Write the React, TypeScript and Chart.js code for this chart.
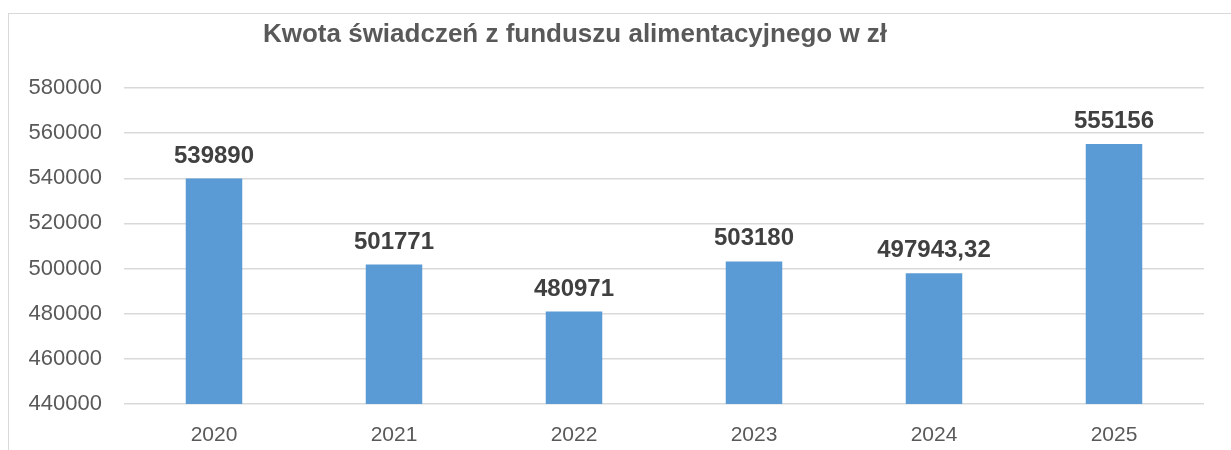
import React, { useEffect, useRef } from "react";
import { Chart, registerables } from "chart.js";

Chart.register(...registerables);

const TITLE = "Kwota świadczeń z funduszu alimentacyjnego w zł";
const YEARS = ["2020", "2021", "2022", "2023", "2024", "2025"];
const AMOUNTS = [539890, 501771, 480971, 503180, 497943.32, 555156];
const Y_MIN = 440000;
const Y_MAX = 580000;
const Y_STEP = 20000;

const FONT = '"Liberation Sans", Arial, sans-serif';

const formatValue = (v: number) => String(v).replace(".", ",");

const titlePlugin = {
  id: "customTitle",
  afterDraw(chart: any) {
    const ctx = chart.ctx;
    ctx.save();
    ctx.font = `bold 26px ${FONT}`;
    ctx.fillStyle = "#595959";
    ctx.textAlign = "center";
    ctx.textBaseline = "alphabetic";
    ctx.fillText(TITLE, 575, 42);
    ctx.restore();
  },
};

const valueLabelPlugin = {
  id: "valueLabels",
  afterDatasetsDraw(chart: any) {
    const ctx = chart.ctx;
    const meta = chart.getDatasetMeta(0);
    ctx.save();
    ctx.font = `bold 24px ${FONT}`;
    ctx.fillStyle = "#404040";
    ctx.textAlign = "center";
    ctx.textBaseline = "alphabetic";
    meta.data.forEach((bar: any, i: number) => {
      ctx.fillText(formatValue(AMOUNTS[i]), bar.x, bar.y - 16);
    });
    ctx.restore();
  },
};

export default function App() {
  const ref = useRef<HTMLCanvasElement | null>(null);

  useEffect(() => {
    if (!ref.current) return;
    const chart = new Chart(ref.current, {
      type: "bar",
      data: {
        labels: YEARS,
        datasets: [
          {
            data: AMOUNTS,
            backgroundColor: "#5b9bd5",
            borderWidth: 0,
            barPercentage: 0.314,
            categoryPercentage: 1,
          },
        ],
      },
      options: {
        responsive: false,
        animation: false,
        events: [],
        layout: { padding: { top: 88, right: 27, left: 0, bottom: 0 } },
        plugins: {
          legend: { display: false },
          tooltip: { enabled: false },
          title: { display: false },
        },
        scales: {
          x: {
            afterFit: (s: any) => {
              s.height = 46;
            },
            grid: { display: false, drawTicks: false },
            border: { display: false },
            ticks: {
              color: "#595959",
              font: { family: FONT, size: 21 },
              padding: 19,
            },
          },
          y: {
            min: Y_MIN,
            max: Y_MAX,
            afterFit: (s: any) => {
              s.width = 124;
            },
            grid: { color: "#d9d9d9", lineWidth: 1.5, drawTicks: false },
            border: { display: false },
            ticks: {
              stepSize: Y_STEP,
              color: "#595959",
              font: { family: FONT, size: 22 },
              padding: 22,
              callback: (v: any) => String(v),
            },
          },
        },
      },
      plugins: [titlePlugin, valueLabelPlugin],
    });
    return () => chart.destroy();
  }, []);

  return (
    <div
      style={{
        position: "fixed",
        left: 0,
        top: 0,
        width: 1231,
        height: 450,
        overflow: "hidden",
        background: "#ffffff",
      }}
    >
      <div
        style={{
          position: "absolute",
          left: 8,
          top: 13,
          width: 1300,
          height: 500,
          border: "1px solid #d9d9d9",
          boxSizing: "border-box",
        }}
      />
      <canvas
        ref={ref}
        width={1231}
        height={450}
        style={{ position: "absolute", left: 0, top: 0, width: 1231, height: 450 }}
      />
    </div>
  );
}
